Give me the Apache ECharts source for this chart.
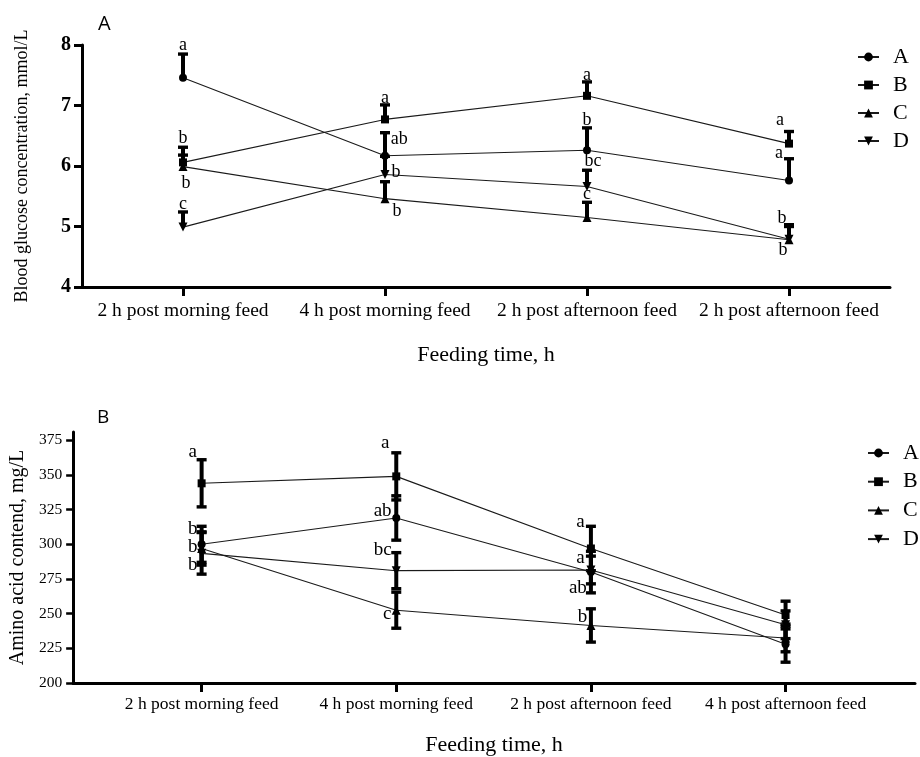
<!DOCTYPE html>
<html>
<head>
<meta charset="utf-8">
<script src="https://cdn.jsdelivr.net/npm/echarts@6/dist/echarts.min.js"></script>
<style>html,body{margin:0;padding:0;background:#fff}#c{width:920px;height:757px}</style>
</head>
<body>
<div id="c"></div>
<script>
// ---------- data ----------
const groupNames = ['A', 'B', 'C', 'D'];
const catPos = [1, 2, 3, 4];
const topCategories = ['2 h post morning feed', '4 h post morning feed', '2 h post afternoon feed', '2 h post afternoon feed'];
const bottomCategories = ['2 h post morning feed', '4 h post morning feed', '2 h post afternoon feed', '4 h post afternoon feed'];
const glucoseTicks = [4, 5, 6, 7, 8];
const aminoTicks = [200, 225, 250, 275, 300, 325, 350, 375];

// Panel A: blood glucose (mmol/L), mean and SE (upper bar only)
const glucoseA = [7.46, 6.17, 6.26, 5.76];
const glucoseB = [6.06, 6.77, 7.16, 6.37];
const glucoseC = [5.99, 5.46, 5.15, 4.78];
const glucoseD = [4.99, 5.86, 5.66, 4.79];
const glucoseErrA = [0.39, 0.38, 0.37, 0.36];
const glucoseErrB = [0.25, 0.24, 0.23, 0.20];
const glucoseErrC = [0.19, 0.28, 0.25, 0.22];
const glucoseErrD = [0.25, 0.30, 0.27, 0.24];
// significance letters: x, y, text
const glucoseLetterX = [1, 1, 1.015, 1, 2, 2.07, 2.055, 2.06, 3, 3, 3.03, 3, 3.955, 3.95, 3.965, 3.97];
const glucoseLetterY = [8.0, 6.46, 5.72, 5.37, 7.12, 6.45, 5.9, 5.26, 7.5, 6.76, 6.07, 5.54, 6.76, 6.21, 5.14, 4.61];
const glucoseLetters = ['a', 'b', 'b', 'c', 'a', 'ab', 'b', 'b', 'a', 'b', 'bc', 'c', 'a', 'a', 'b', 'b'];

// Panel B: amino acid content (mg/L), mean and SE (two-sided)
const aminoA = [300, 319, 280, 228];
const aminoB = [344, 349, 297, 249];
const aminoC = [297, 252.5, 241.5, 232.5];
const aminoD = [293.5, 281, 281.5, 242];
const aminoErrA = [13, 16, 15, 13];
const aminoErrB = [17, 17, 16, 10];
const aminoErrC = [12, 13, 12, 10];
const aminoErrD = [15, 13, 10, 10];
const aminoLetterX = [0.954, 0.954, 0.954, 0.954, 1.943, 1.93, 1.93, 1.954, 2.946, 2.946, 2.933, 2.957];
const aminoLetterY = [366.4, 311.2, 298.3, 285.3, 373.1, 324.1, 296.1, 249.5, 316.4, 290.1, 268.6, 247.8];
const aminoLetters = ['a', 'b', 'b', 'b', 'a', 'ab', 'bc', 'c', 'a', 'a', 'ab', 'b'];

// ---------- styles ----------
const SERIF = 'Liberation Serif';
const symbols = ['circle', 'rect', 'triangle', 'triangle'];
const symbolRotates = [0, 0, 0, 180];
const symbolSizes = [8, 8, 9, 9];

const glucoseMeans = [glucoseA, glucoseB, glucoseC, glucoseD];
const glucoseErrs = [glucoseErrA, glucoseErrB, glucoseErrC, glucoseErrD];
const aminoMeans = [aminoA, aminoB, aminoC, aminoD];
const aminoErrs = [aminoErrA, aminoErrB, aminoErrC, aminoErrD];

function lineSeries(means, gi) {
  return means.map((m, k) => ({
    type: 'line', name: groupNames[k], xAxisIndex: gi, yAxisIndex: gi,
    data: m.map((v, i) => [catPos[i], v]),
    symbol: symbols[k], symbolRotate: symbolRotates[k], symbolSize: symbolSizes[k],
    showAllSymbol: true,
    lineStyle: { color: '#1a1a1a', width: 1.1 },
    itemStyle: { color: '#000' },
    z: 4, animation: false
  }));
}

function errorSeries(means, errs, gi, twoSided) {
  const rows = [];
  means.forEach((m, k) => m.forEach((v, i) => {
    rows.push([catPos[i], twoSided ? v - errs[k][i] : v, v + errs[k][i]]);
  }));
  return {
    type: 'custom', xAxisIndex: gi, yAxisIndex: gi, z: 3, silent: true, animation: false,
    encode: { x: 0, y: [1, 2] },
    data: rows,
    renderItem: function (params, api) {
      const x = api.value(0), lo = api.value(1), hi = api.value(2);
      const p1 = api.coord([x, lo]), p2 = api.coord([x, hi]);
      const cap = 5;
      const children = [
        { type: 'line', shape: { x1: p1[0], y1: p1[1], x2: p2[0], y2: p2[1] }, style: { stroke: '#000', lineWidth: 4 } },
        { type: 'line', shape: { x1: p2[0] - cap, y1: p2[1], x2: p2[0] + cap, y2: p2[1] }, style: { stroke: '#000', lineWidth: 3.4 } }
      ];
      if (twoSided) {
        children.push({ type: 'line', shape: { x1: p1[0] - cap, y1: p1[1], x2: p1[0] + cap, y2: p1[1] }, style: { stroke: '#000', lineWidth: 3.4 } });
      }
      return { type: 'group', children: children };
    }
  };
}

function letterSeries(xs, ys, texts, gi, size) {
  return {
    type: 'custom', xAxisIndex: gi, yAxisIndex: gi, z: 5, silent: true, animation: false,
    encode: { x: 0, y: 1 },
    data: xs.map((x, i) => [x, ys[i]]),
    renderItem: function (params, api) {
      const p = api.coord([api.value(0), api.value(1)]);
      return {
        type: 'text',
        style: {
          text: texts[params.dataIndex], x: p[0], y: p[1],
          align: 'center', verticalAlign: 'middle',
          fontFamily: SERIF, fontSize: size, fill: '#000'
        }
      };
    }
  };
}

const axisLineStyle = { show: true, lineStyle: { color: '#000', width: 3 } };

const option = {
  backgroundColor: '#fff',
  animation: false,
  title: [
    { text: 'A', left: 98, top: 14, padding: 0, textStyle: { fontFamily: 'Open Sans', fontSize: 20, fontWeight: 'normal', color: '#000' } },
    { text: 'B', left: 97, top: 408, padding: 0, textStyle: { fontFamily: 'Open Sans', fontSize: 19, fontWeight: 'normal', color: '#000' } }
  ],
  legend: [
    { data: groupNames, orient: 'vertical', left: 857, top: 46, padding: 0, itemWidth: 21, itemHeight: 11, itemGap: 6,
      selectedMode: false,
      textStyle: { fontFamily: SERIF, fontSize: 22, lineHeight: 22, color: '#000', padding: [0, 0, 0, 9] } },
    { data: groupNames, orient: 'vertical', left: 867, top: 442, padding: 0, itemWidth: 21, itemHeight: 11, itemGap: 6.7,
      selectedMode: false,
      textStyle: { fontFamily: SERIF, fontSize: 22, lineHeight: 22, color: '#000', padding: [0, 0, 0, 9] } }
  ],
  grid: [
    { left: 82, top: 45, width: 808, height: 242 },
    { left: 73, top: 432, width: 842, height: 252 }
  ],
  xAxis: [
    { type: 'value', gridIndex: 0, min: 0.5, max: 4.5,
      name: 'Feeding time, h', nameLocation: 'middle', nameGap: 57,
      nameTextStyle: { fontFamily: SERIF, fontSize: 22, color: '#000' },
      axisLine: axisLineStyle,
      axisTick: { show: true, customValues: catPos, length: 9, lineStyle: { color: '#000', width: 3 } },
      axisLabel: { customValues: catPos, formatter: v => topCategories[Math.round(v) - 1], fontFamily: SERIF, fontSize: 19.5, color: '#000', margin: 14 },
      splitLine: { show: false } },
    { type: 'value', gridIndex: 1, min: 0.34, max: 4.665,
      name: 'Feeding time, h', nameLocation: 'middle', nameGap: 51,
      nameTextStyle: { fontFamily: SERIF, fontSize: 22, color: '#000' },
      axisLine: axisLineStyle,
      axisTick: { show: true, customValues: catPos, length: 9, lineStyle: { color: '#000', width: 3 } },
      axisLabel: { customValues: catPos, formatter: v => bottomCategories[Math.round(v) - 1], fontFamily: SERIF, fontSize: 17.5, color: '#000', margin: 12 },
      splitLine: { show: false } }
  ],
  yAxis: [
    { type: 'value', gridIndex: 0, min: 4, max: 8, interval: 1,
      name: 'Blood glucose concentration, mmol/L', nameLocation: 'middle', nameGap: 51,
      nameTextStyle: { fontFamily: SERIF, fontSize: 18, color: '#000' },
      axisLine: axisLineStyle,
      axisTick: { show: true, customValues: glucoseTicks, length: 8, lineStyle: { color: '#000', width: 3 } },
      axisLabel: { customValues: glucoseTicks, fontFamily: SERIF, fontSize: 20, fontWeight: 'bold', color: '#000', margin: 11 },
      splitLine: { show: false } },
    { type: 'value', gridIndex: 1, min: 200, max: 381,
      name: 'Amino acid contend, mg/L', nameLocation: 'middle', nameGap: 42,
      nameTextStyle: { fontFamily: SERIF, fontSize: 20, color: '#000' },
      axisLine: axisLineStyle,
      axisTick: { show: true, customValues: aminoTicks, length: 7, lineStyle: { color: '#000', width: 2.5 } },
      axisLabel: { customValues: aminoTicks, fontFamily: SERIF, fontSize: 15.5, color: '#000', margin: 11 },
      splitLine: { show: false } }
  ],
  series: [
    errorSeries(glucoseMeans, glucoseErrs, 0, false),
    ...lineSeries(glucoseMeans, 0),
    letterSeries(glucoseLetterX, glucoseLetterY, glucoseLetters, 0, 18),
    errorSeries(aminoMeans, aminoErrs, 1, true),
    ...lineSeries(aminoMeans, 1),
    letterSeries(aminoLetterX, aminoLetterY, aminoLetters, 1, 19)
  ]
};

const chart = echarts.init(document.getElementById('c'), null, { renderer: 'canvas' });
chart.setOption(option);
</script>
</body>
</html>
